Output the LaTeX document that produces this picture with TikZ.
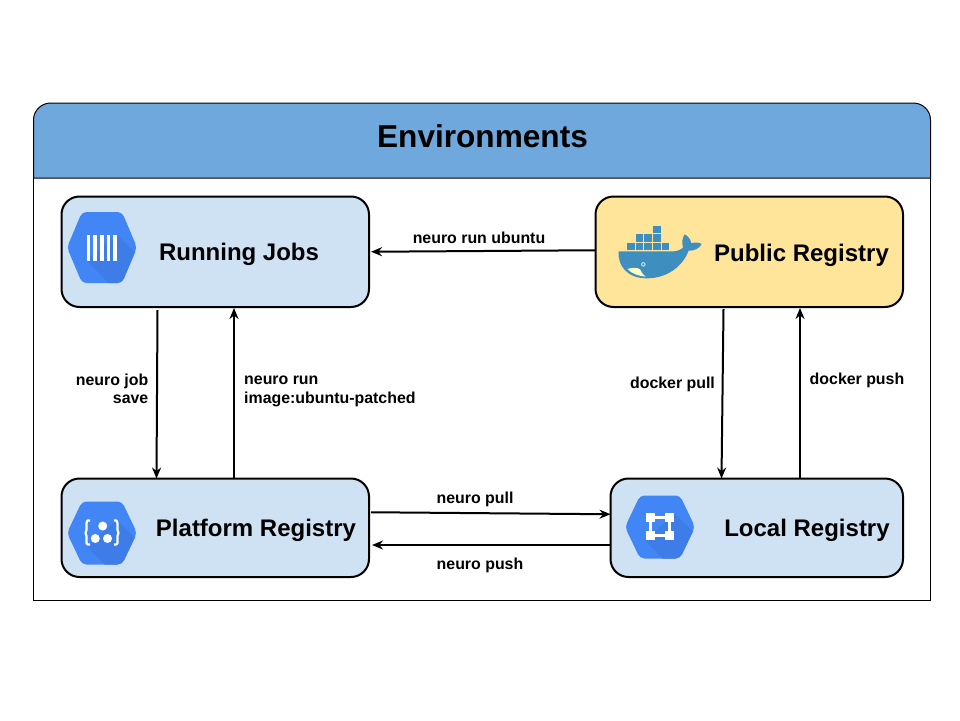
\documentclass[tikz,border=0pt]{standalone}
\usepackage{fontspec}
\setmainfont{Liberation Sans}
\usetikzlibrary{arrows.meta}
\definecolor{hdr}{HTML}{6FA8DC}
\definecolor{boxblue}{HTML}{CFE2F3}
\definecolor{boxyel}{HTML}{FFE599}
\definecolor{gblue}{HTML}{4285F4}
\definecolor{gdark}{HTML}{3E7CE8}
\definecolor{whale}{HTML}{3E8FBF}
\tikzset{
  x=1pt,y=-1pt,
  panel/.style={draw=black,line width=2pt,rounded corners=18pt,outer sep=0pt,inner sep=0pt,anchor=north west},
  boxtitle/.style={font=\bfseries\fontsize{24}{28}\selectfont,inner sep=0pt},
  lab/.style={font=\bfseries\fontsize{15.9}{18.5}\selectfont,inner sep=0pt},
  conn/.style={line width=2pt,-{Stealth[length=11pt,width=9pt]}},
}
\newcommand{\hexbase}[3]{% cx, cy, half height
  \begin{scope}
    \path[clip,rounded corners=4.5pt] (#1-35,#2) -- (#1-20,#2-#3) -- (#1+20,#2-#3) -- (#1+35,#2) -- (#1+20,#2+#3) -- (#1-20,#2+#3) -- cycle;
    \fill[gblue] (#1-40,#2-40) rectangle (#1+40,#2+40);
    \fill[gdark] (#1+15,#2-13) -- (#1+60,#2+32) -- (#1+30,#2+60) -- (#1-15,#2+13) -- cycle;
  \end{scope}}
\begin{document}
\begin{tikzpicture}
\useasboundingbox (0,0) rectangle (960,720);
\fill[white] (0,0) rectangle (960,720);
% frame
\draw[line width=1pt] (33.5,120) -- (33.5,600.5) -- (930.5,600.5) -- (930.5,120);
\path[fill=hdr,draw=black,line width=1pt] (33.5,178) -- (33.5,120) .. controls (33.5,110) and (42,103) .. (50.5,103) -- (913.5,103) .. controls (922,103) and (930.5,110) .. (930.5,120) -- (930.5,178) -- cycle;
\node[font=\bfseries\fontsize{31.6}{36}\selectfont,inner sep=0pt] (title) at (482.5,136) {Environments};
% boxes
\node[panel,fill=boxblue,minimum width=307.5pt,minimum height=110.5pt] (run) at (61.5,196.5) {};
\node[panel,fill=boxyel,minimum width=307.5pt,minimum height=110.5pt] (pub) at (595.5,196.5) {};
\node[panel,fill=boxblue,minimum width=307.5pt,minimum height=98.5pt] (plat) at (61.5,478.5) {};
\node[panel,fill=boxblue,minimum width=292.5pt,minimum height=98.5pt] (loc) at (610.5,478.5) {};
\node[boxtitle] (runT) at (239,254.5) {Running Jobs};
\node[boxtitle] (pubT) at (801.5,255.5) {Public Registry};
\node[boxtitle] (platT) at (256,530.5) {Platform Registry};
\node[boxtitle] (locT) at (807,530.5) {Local Registry};
% icon: running jobs
\hexbase{102}{247.5}{35.5}
\foreach \i in {0,1,2,3,4} \fill[white] (86.7+\i*6.65,235) rectangle ++(3.7,26);
% icon: platform
\hexbase{102}{533}{31.5}
\fill[white] (102.7,526) circle[radius=4.5pt];
\fill[white] (95.3,538.5) circle[radius=4.5pt];
\fill[white] (107.5,538.5) circle[radius=4.5pt];
\draw[white,line width=2.2pt,line join=round] (90,520.5) -- (87.5,520.5) -- (86.5,523) -- (86.5,530) -- (85.5,533) -- (86.5,536) -- (86.5,543) -- (87.5,544.5) -- (90,544.5);
\draw[white,line width=2.2pt,line join=round] (114,520.5) -- (116.5,520.5) -- (117.5,523) -- (117.5,530) -- (118.5,533) -- (117.5,536) -- (117.5,543) -- (116.5,544.5) -- (114,544.5);
% icon: local
\hexbase{660}{527}{31.5}
\draw[white,line width=3pt] (650.7,517.3) rectangle (669.3,535.7);
\foreach \sx/\sy in {650.7/517.3,669.3/517.3,650.7/535.7,669.3/535.7}
  \fill[white] (\sx-4.3,\sy-4.3) rectangle ++(8.6,8.6);
% whale
\begin{scope}[shift={(600,210)},x=0.33333pt,y=-0.33333pt]
  \fill[whale] (56,124) -- (222,124) .. controls (234,123) and (245,118) .. (249,112)
     .. controls (245,98) and (247,82) .. (254,73)
     .. controls (264,78) and (272,88) .. (274,100)
     .. controls (285,96) and (297,97) .. (305,102)
     .. controls (298,116) and (282,123) .. (266,122)
     .. controls (252,160) and (210,205) .. (140,205)
     .. controls (85,205) and (52,170) .. (56,124) -- cycle;
  \fill[yellow!25!white] (82,177) .. controls (98,172) and (112,172) .. (120,178)
     .. controls (124,187) and (130,195) .. (137,200)
     .. controls (115,198) and (96,191) .. (82,177) -- cycle;
  \fill[whale!30!white] (130,163) circle[radius=2.3pt];
  \fill[whale] (130,163) circle[radius=1.2pt];
  \foreach \cx/\cy in {81/98,107/98,133/98,159/98,185/98,107/73,133/73,159/73,159/48}
    \fill[whale] (\cx,\cy) rectangle ++(23,22);
\end{scope}
% connectors
\draw[conn] ([yshift=1.5pt]pub.west) -- ([xshift=2pt]run.east);
\draw[conn] ([xshift=96pt,yshift=-3pt]run.south west) -- ([xshift=95pt]plat.north west);
\draw[conn] ([xshift=172.5pt]plat.north west) -- ([xshift=172.5pt,yshift=-1pt]run.south west);
\draw[conn] ([xshift=128pt,yshift=-2pt]pub.south west) -- ([xshift=111pt]loc.north west);
\draw[conn] ([xshift=189.5pt]loc.north west) -- ([xshift=204.5pt,yshift=-1pt]pub.south west);
\draw[conn] ([xshift=2pt,yshift=15.5pt]plat.east) -- ([yshift=13.5pt]loc.west);
\draw[conn] ([xshift=-1pt,yshift=-17.25pt]loc.west) -- ([xshift=3pt,yshift=-17.25pt]plat.east);
% labels
\node[lab] (l1) at (479,238) {neuro run ubuntu};
\node[lab,align=right,anchor=east] (l2) at (148.5,389) {neuro job\\save};
\node[lab,align=left,anchor=west] (l3) at (244,391.5) {neuro run\\image:ubuntu-patched};
\node[lab] (l4) at (672.5,384) {docker pull};
\node[lab] (l5) at (857,380) {docker push};
\node[lab] (l6) at (475,499) {neuro pull};
\node[lab] (l7) at (480,565) {neuro push};
\end{tikzpicture}
\end{document}
